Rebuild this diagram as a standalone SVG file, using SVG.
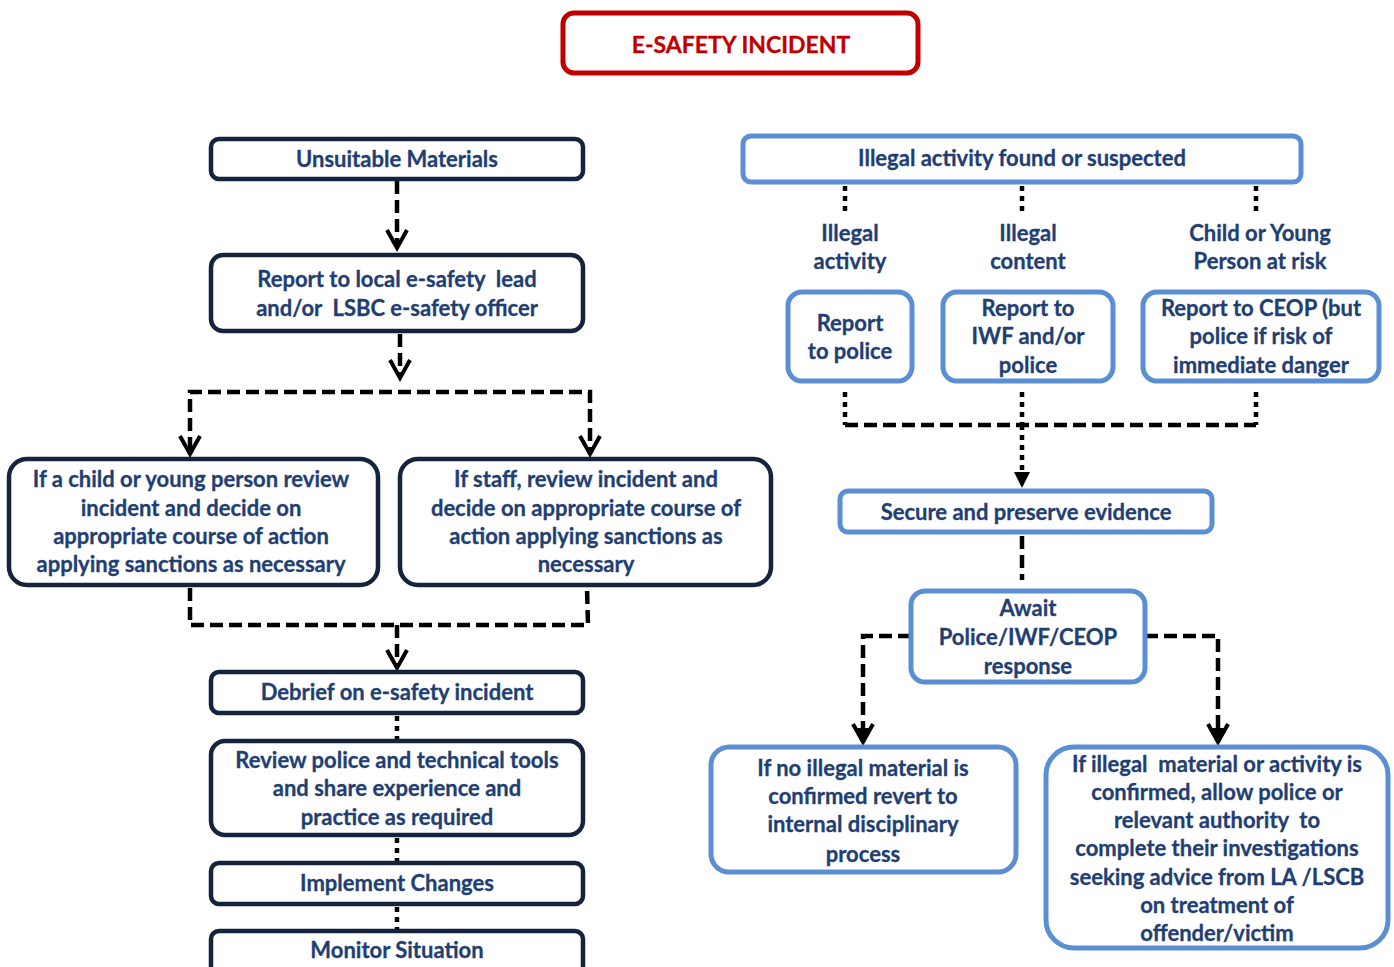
<svg xmlns="http://www.w3.org/2000/svg" width="1394" height="967" viewBox="0 0 1394 967">
<defs>
<style>
.t{font-family:Lato,"Open Sans","Liberation Sans",sans-serif;font-weight:bold;font-size:22px;fill:#1F3F73;stroke:#1F3F73;stroke-width:0.3;text-anchor:middle;white-space:pre}
.nv{fill:#fff;stroke:#15243D;stroke-width:4.5}
.bl{fill:#fff;stroke:#5A8FD3;stroke-width:5}
.dash{fill:none;stroke:#000;stroke-width:4.5;stroke-dasharray:13 6}
.dot{fill:none;stroke:#000;stroke-width:4.5;stroke-dasharray:5 5}
.chev{fill:none;stroke:#000;stroke-width:4;stroke-linejoin:miter}
</style>
</defs>
<rect width="1394" height="967" fill="#fff"/>

<g id="connectors">
<line class="dash" x1="397" y1="181" x2="397" y2="246"/>
<path class="chev" d="M387 230 L397 248 L407 230"/>
<line class="dash" x1="400" y1="334" x2="400" y2="374"/>
<path class="chev" d="M390 360 L400 378 L410 360"/>
<polyline class="dash" points="190,450 190,392 590,392 590,450"/>
<path class="chev" d="M180 436 L190 454 L200 436"/>
<path class="chev" d="M580 436 L590 454 L600 436"/>
<polyline class="dash" points="190,588 190,625 588,625 587,588"/>
<line class="dash" x1="397" y1="625" x2="397" y2="664"/>
<path class="chev" d="M387 650 L397 668 L407 650"/>
<line class="dot" x1="397" y1="716" x2="397" y2="740"/>
<line class="dot" x1="397" y1="838" x2="397" y2="862"/>
<line class="dot" x1="397" y1="907" x2="397" y2="930"/>

<line class="dot" x1="845" y1="186" x2="845" y2="216"/>
<line class="dot" x1="1022" y1="186" x2="1022" y2="216"/>
<line class="dot" x1="1256" y1="186" x2="1256" y2="216"/>
<polyline class="dot" points="845,392 845,425"/>
<polyline class="dot" points="1022,392 1022,425"/>
<polyline class="dot" points="1256,392 1256,425"/>
<line class="dash" x1="845" y1="425" x2="1256" y2="425"/>
<line class="dot" x1="1022" y1="425" x2="1022" y2="472"/>
<path d="M1014 472 L1030 472 L1022 488 Z" fill="#000"/>
<line class="dash" x1="1022" y1="536" x2="1022" y2="580"/>
<polyline class="dash" points="911,636 863,636 863,728"/>
<path class="chev" d="M853 724 L863 742 L873 724"/>
<path d="M857 728 L869 728 L863 740 Z" fill="#000"/>
<polyline class="dash" points="1145,636 1218,636 1218,728"/>
<path class="chev" d="M1208 724 L1218 742 L1228 724"/>
<path d="M1212 728 L1224 728 L1218 740 Z" fill="#000"/>
</g>

<g id="title">
<rect x="563" y="13" width="355" height="60" rx="11" fill="#fff" stroke="#C00000" stroke-width="5"/>
<text class="t" x="741" y="53" style="fill:#C00000;stroke:#C00000;font-size:23px">E-SAFETY INCIDENT</text>
</g>

<g id="unsuitable">
<rect class="nv" x="211" y="139" width="372" height="40" rx="8"/>
<text class="t" x="397" y="167">Unsuitable Materials</text>
</g>
<g id="report-local">
<rect class="nv" x="211" y="255" width="372" height="76" rx="12"/>
<text class="t" x="397" y="287">Report to local e-safety  lead</text>
<text class="t" x="397" y="316">and/or  LSBC e-safety officer</text>
</g>
<g id="child-review">
<rect class="nv" x="9" y="459" width="369" height="126" rx="18"/>
<text class="t" x="191" y="487">If a child or young person review</text>
<text class="t" x="191" y="516">incident and decide on</text>
<text class="t" x="191" y="544">appropriate course of action</text>
<text class="t" x="191" y="572">applying sanctions as necessary</text>
</g>
<g id="staff-review">
<rect class="nv" x="400" y="459" width="371" height="126" rx="18"/>
<text class="t" x="586" y="487">If staff, review incident and</text>
<text class="t" x="586" y="516">decide on appropriate course of</text>
<text class="t" x="586" y="544">action applying sanctions as</text>
<text class="t" x="586" y="572">necessary</text>
</g>
<g id="debrief">
<rect class="nv" x="211" y="672" width="372" height="41" rx="8"/>
<text class="t" x="397" y="700">Debrief on e-safety incident</text>
</g>
<g id="review-tools">
<rect class="nv" x="211" y="741" width="372" height="94" rx="14"/>
<text class="t" x="397" y="768">Review police and technical tools</text>
<text class="t" x="397" y="796">and share experience and</text>
<text class="t" x="397" y="825">practice as required</text>
</g>
<g id="implement">
<rect class="nv" x="211" y="863" width="372" height="41" rx="8"/>
<text class="t" x="397" y="891">Implement Changes</text>
</g>
<g id="monitor">
<rect class="nv" x="211" y="931" width="372" height="50" rx="8"/>
<text class="t" x="397" y="958">Monitor Situation</text>
</g>

<g id="illegal-found">
<rect class="bl" x="743" y="136" width="558" height="46" rx="8"/>
<text class="t" x="1022" y="166">Illegal activity found or suspected</text>
</g>
<g id="label-activity">
<text class="t" x="850" y="241">Illegal</text>
<text class="t" x="850" y="269">activity</text>
</g>
<g id="label-content">
<text class="t" x="1028" y="241">Illegal</text>
<text class="t" x="1028" y="269">content</text>
</g>
<g id="label-child">
<text class="t" x="1260" y="241">Child or Young</text>
<text class="t" x="1260" y="269">Person at risk</text>
</g>
<g id="report-police">
<rect class="bl" x="788" y="292" width="124" height="89" rx="14"/>
<text class="t" x="850" y="331">Report</text>
<text class="t" x="850" y="359">to police</text>
</g>
<g id="report-iwf">
<rect class="bl" x="943" y="292" width="170" height="89" rx="14"/>
<text class="t" x="1028" y="316">Report to</text>
<text class="t" x="1028" y="344">IWF and/or</text>
<text class="t" x="1028" y="373">police</text>
</g>
<g id="report-ceop">
<rect class="bl" x="1143" y="292" width="236" height="89" rx="14"/>
<text class="t" x="1261" y="316">Report to CEOP (but</text>
<text class="t" x="1261" y="344">police if risk of</text>
<text class="t" x="1261" y="373">immediate danger</text>
</g>
<g id="secure">
<rect class="bl" x="840" y="491" width="372" height="41" rx="8"/>
<text class="t" x="1026" y="520">Secure and preserve evidence</text>
</g>
<g id="await">
<rect class="bl" x="911" y="591" width="234" height="91" rx="14"/>
<text class="t" x="1028" y="616">Await</text>
<text class="t" x="1028" y="645">Police/IWF/CEOP</text>
<text class="t" x="1028" y="674">response</text>
</g>
<g id="no-illegal">
<rect class="bl" x="711" y="747" width="305" height="125" rx="18"/>
<text class="t" x="863" y="776">If no illegal material is</text>
<text class="t" x="863" y="804">confirmed revert to</text>
<text class="t" x="863" y="832">internal disciplinary</text>
<text class="t" x="863" y="862">process</text>
</g>
<g id="illegal-confirmed">
<rect class="bl" x="1046" y="747" width="342" height="201" rx="28"/>
<text class="t" x="1217" y="772">If illegal  material or activity is</text>
<text class="t" x="1217" y="800">confirmed, allow police or</text>
<text class="t" x="1217" y="828">relevant authority  to</text>
<text class="t" x="1217" y="856">complete their investigations</text>
<text class="t" x="1217" y="885">seeking advice from LA /LSCB</text>
<text class="t" x="1217" y="913">on treatment of</text>
<text class="t" x="1217" y="941">offender/victim</text>
</g>
</svg>
